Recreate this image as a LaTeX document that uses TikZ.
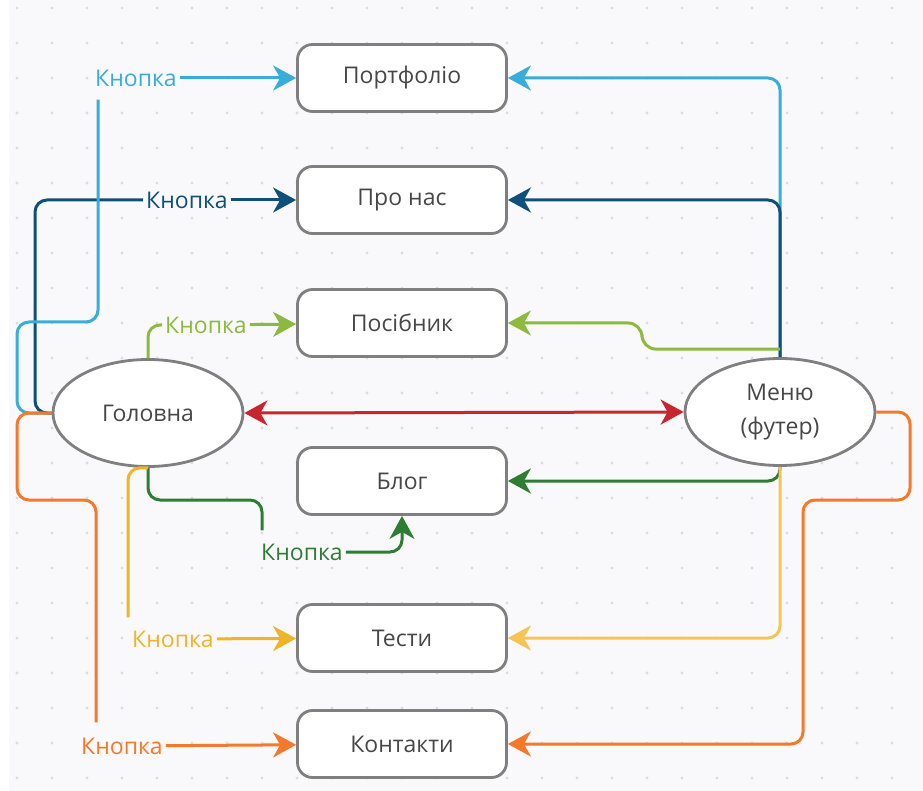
\documentclass[tikz,border=0pt]{standalone}
\usepackage{fontspec}
\setmainfont{Open Sans}
\usetikzlibrary{arrows.meta,shapes.geometric}

\definecolor{lblue}{HTML}{39ADDA}
\definecolor{dblue}{HTML}{0E4F7B}
\definecolor{lgreen}{HTML}{8CBA3F}
\definecolor{dgreen}{HTML}{2E7D32}
\definecolor{lyellow}{HTML}{F2B326}
\definecolor{ryellow}{HTML}{F6C456}
\definecolor{orange1}{HTML}{F5792A}
\definecolor{red1}{HTML}{C9252E}
\definecolor{boxgray}{HTML}{7F7F7F}
\definecolor{txtgray}{HTML}{474747}
\definecolor{bggray}{HTML}{F9F9FB}
\definecolor{dotgray}{HTML}{DCDCE0}

\begin{document}
\begin{tikzpicture}[x=1pt,y=-1pt,
  >={Stealth[length=23pt,width=25pt,inset=7pt]},
  page/.style={draw=boxgray, line width=2.8pt, fill=white, rounded corners=15pt,
    minimum width=209pt, minimum height=67pt, text=txtgray,
    font=\fontsize{23}{28}\selectfont},
  hub/.style={ellipse, draw=boxgray, line width=2.8pt, fill=white,
    minimum width=190pt, minimum height=107pt, text=txtgray, align=center,
    font=\fontsize{23}{34}\selectfont},
  wire/.style={line width=3pt, rounded corners=12pt},
  btn/.style={font=\fontsize{23}{27}\selectfont, inner sep=3pt}]

\useasboundingbox (0,0) rectangle (923,791);
% background with dot grid
\fill[bggray] (9,0) rectangle (923,791);
\foreach \x in {17,52,...,912}
  \foreach \y in {8,43,...,788}
    \fill[dotgray] (\x,\y) circle (1.6pt);

% pages
\node[page] (portfolio) at (402,78) {Портфоліо};
\node[page] (about) at (402,200) {Про нас};
\node[page] (guide) at (402,323) {Посібник};
\node[page] (blog) at (402,481) {Блог};
\node[page] (tests) at (402,638) {Тести};
\node[page] (contacts) at (402,744) {Контакти};

% main page and footer menu
\node[hub] (home) at (148,413) {Головна};
\node[hub] (menu) at (780,412) {Меню\\(футер)};

% buttons
\node[btn, text=lblue] (btnP) at (136,78) {Кнопка};
\node[btn, text=dblue] (btnA) at (187,200) {Кнопка};
\node[btn, text=lgreen] (btnG) at (206,325) {Кнопка};
\node[btn, text=dgreen] (btnB) at (302,552) {Кнопка};
\node[btn, text=lyellow] (btnT) at (173,639) {Кнопка};
\node[btn, text=orange1] (btnC) at (122,746) {Кнопка};

% links from home
\draw[wire, dblue] (home.west) -| (35,200) -- (btnA);
\draw[wire, ->, dblue] (btnA) -- (about);
\draw[wire, lblue] (home.west) -| (17,322) -| ([xshift=6pt,yshift=-10pt]btnP.south west);
\draw[wire, ->, lblue] (btnP) -- (portfolio);
\draw[wire, lgreen] (home.north) |- (btnG);
\draw[wire, ->, lgreen] (btnG) -- (guide);
\draw[wire, dgreen] (home.south) |- (262,500) -- ([xshift=4pt,yshift=10pt]btnB.north west);
\draw[wire, ->, dgreen] (btnB) -| (blog.south);
\draw[wire, lyellow] (home.south) -| ([xshift=-1pt,yshift=10pt]btnT.north west);
\draw[wire, ->, lyellow] (btnT) -- (tests);
\draw[wire, orange1] (home.west) -| (17,500) -| ([xshift=18pt,yshift=12pt]btnC.north west);
\draw[wire, ->, orange1] (btnC) -- (contacts);

% links from menu
\draw[wire, ->, lblue] (menu.north) |- (portfolio);
\draw[wire, ->, dblue] (menu.north) |- (about);
\draw[wire, ->, lgreen, rounded corners=14pt] ([yshift=8pt]menu.north) -| (642,323) -- (guide.east);
\draw[wire, ->, dgreen] (menu.south) |- (blog);
\draw[wire, ->, ryellow] (menu.south) |- (tests);
\draw[wire, ->, orange1] (menu.east) -| (910,500) -| (803,744) -- (contacts.east);

% home <-> menu
\draw[wire, <->, red1] (home.east) -- (menu.west);
\end{tikzpicture}
\end{document}
